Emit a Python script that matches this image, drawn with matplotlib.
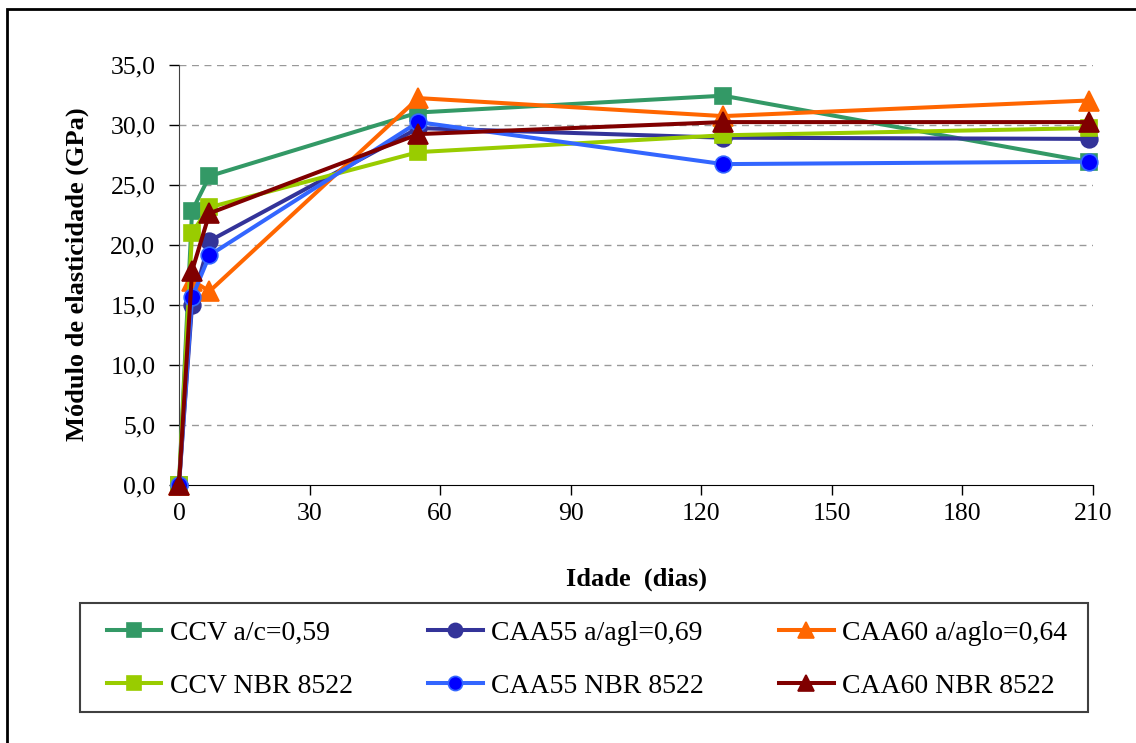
import matplotlib.pyplot as plt
from matplotlib.patches import Rectangle

idade = [0, 3, 7, 55, 125, 209]

ccv_ac = [0.0, 22.8, 25.7, 31.0, 32.4, 26.9]
caa55_agl = [0.0, 15.0, 20.3, 29.7, 28.9, 28.8]
caa60_aglo = [0.0, 17.0, 16.1, 32.2, 30.7, 32.0]
ccv_nbr = [0.0, 21.0, 23.1, 27.7, 29.1, 29.7]
caa55_nbr = [0.0, 15.6, 19.1, 30.2, 26.7, 26.9]
caa60_nbr = [0.0, 17.8, 22.6, 29.2, 30.2, 30.2]

nomes = ["CCV a/c=0,59", "CAA55 a/agl=0,69", "CAA60 a/aglo=0,64",
         "CCV NBR 8522", "CAA55 NBR 8522", "CAA60 NBR 8522"]
series = [ccv_ac, caa55_agl, caa60_aglo, ccv_nbr, caa55_nbr, caa60_nbr]
# (cor da linha, cor do marcador, borda, marcador, tamanho)
estilos = [("#339966", "#339966", "#339966", "s", 12),
           ("#333399", "#333399", "#333399", "o", 12),
           ("#FF6600", "#FF6600", "#FF6600", "^", 14),
           ("#99CC00", "#99CC00", "#99CC00", "s", 12),
           ("#3366FF", "#0000FF", "#3366FF", "o", 12),
           ("#800000", "#800000", "#800000", "^", 14)]

plt.rcParams['font.family'] = ['Liberation Serif', 'DejaVu Serif']

fig = plt.figure(figsize=(11.36, 7.43), dpi=100)
ax = fig.add_axes([179 / 1136, 1 - 484.5 / 743, (1093 - 179) / 1136, (484.5 - 64.5) / 743])

linhas = {}
for nome, y, (lc, mc, ec, mk, ms) in zip(nomes, series, estilos):
    ln, = ax.plot(idade, y, color=lc, linewidth=2.9, marker=mk, markersize=ms,
                  markerfacecolor=mc, markeredgecolor=ec, markeredgewidth=1.2,
                  clip_on=False, label=nome, zorder=3)
    linhas[nome] = ln

ax.set_xlim(0, 210)
ax.set_ylim(0, 35)
ax.set_xticks(range(0, 211, 30))
ax.set_yticks(range(0, 36, 5))
ax.set_yticklabels([("%.1f" % v).replace(".", ",") for v in range(0, 36, 5)])
for v in range(5, 36, 5):
    ax.axhline(v, color="#999999", linestyle=(0, (5, 4)), linewidth=1.0, zorder=1)

ax.spines['top'].set_visible(False)
ax.spines['right'].set_visible(False)
ax.spines['left'].set_color('#404040')
ax.spines['bottom'].set_color('#000000')
ax.tick_params(axis='both', direction='out', length=7, width=1, labelsize=18.5, pad=6)
ax.tick_params(axis='y', pad=10)

ax.set_xlabel("Idade  (dias)", fontsize=19, fontweight='bold', labelpad=31)
ax.set_ylabel("Módulo de elasticidade (GPa)", fontsize=19, fontweight='bold', labelpad=15)

# caixa da legenda desenhada a parte
fig.patches.append(Rectangle((80 / 1136, 1 - 712 / 743), (1088 - 80) / 1136, (712 - 603) / 743,
                             transform=fig.transFigure, fill=False, edgecolor='#404040',
                             linewidth=1.5))

# legenda em 3 colunas, preenchida por colunas
ordem = [nomes[0], nomes[3], nomes[1], nomes[4], nomes[2], nomes[5]]
leg = fig.legend([linhas[n] for n in ordem], ordem, ncol=3, mode='expand',
                 bbox_to_anchor=(96 / 1136, 1 - 714 / 743, (1078 - 96) / 1136, (712 - 603) / 743),
                 loc='center', borderaxespad=0, fontsize=20, frameon=False,
                 handlelength=1.95, handletextpad=0.3, borderpad=0.4, labelspacing=1.0,
                 columnspacing=1.5)
for h in leg.legend_handles:
    h.set_markersize(h.get_markersize() * 0.85)

# moldura externa
fig.patches.append(Rectangle((7 / 1136, -0.05), 1.2, 1 - 9 / 743 + 0.05, transform=fig.transFigure,
                             fill=False, edgecolor='black', linewidth=2))

fig.savefig("out.png", dpi=100)
